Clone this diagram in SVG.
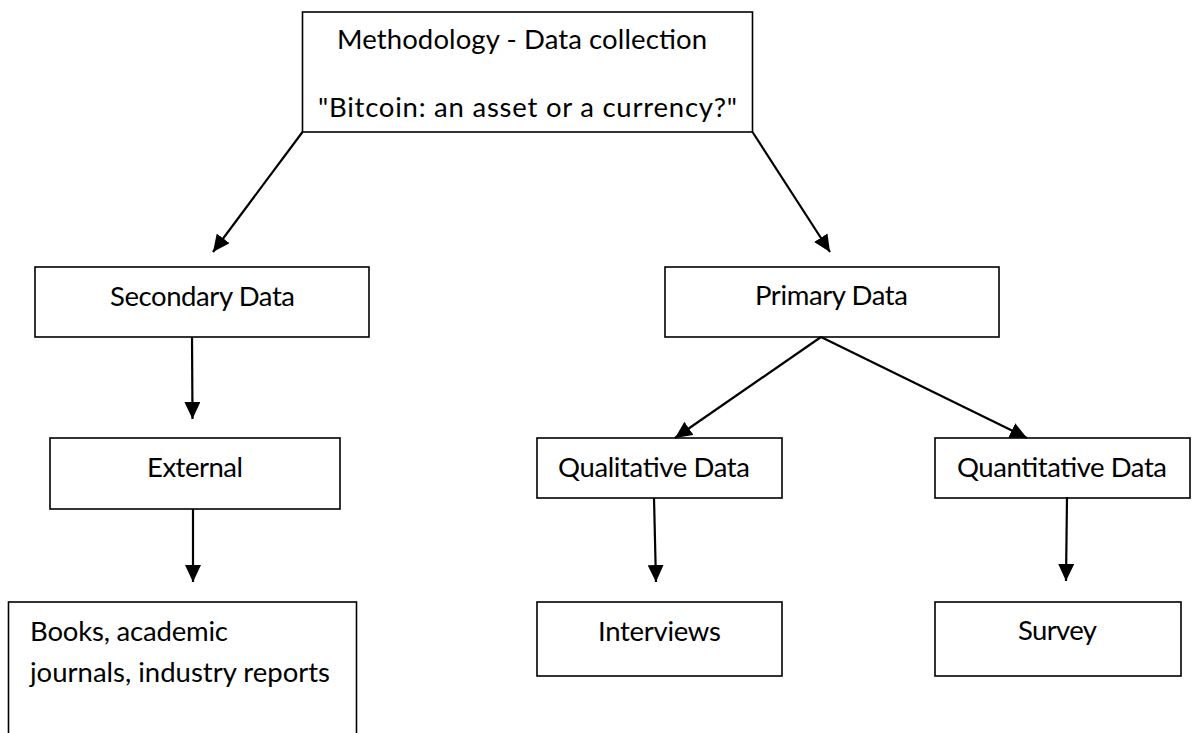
<svg xmlns="http://www.w3.org/2000/svg" width="1197" height="733" viewBox="0 0 1197 733">
<style>
.box{fill:#fff;stroke:#000;stroke-width:1.6}
.lbl{font-family:Lato,"Liberation Sans",sans-serif;font-size:27.5px;fill:#000}
.mid{text-anchor:middle}
.con{stroke:#000;stroke-width:2.2;fill:none;marker-end:url(#ah)}
</style>
<defs>
<marker id="ah" markerUnits="userSpaceOnUse" markerWidth="17" markerHeight="16" refX="17" refY="8" orient="auto">
<path d="M0,0 L17,8 L0,16 Z" fill="#000"/>
</marker>
</defs>
<rect width="1197" height="733" fill="#fff"/>
<g id="n-top">
<rect class="box" x="302.5" y="12" width="450" height="120"/>
<text class="lbl mid" x="522" y="49" textLength="370">Methodology - Data collection</text>
<text class="lbl mid" x="527.5" y="117" textLength="419">"Bitcoin: an asset or a currency?"</text>
</g>
<g id="n-secondary">
<rect class="box" x="35" y="267" width="334" height="70"/>
<text class="lbl mid" x="202.5" y="306" textLength="185">Secondary Data</text>
</g>
<g id="n-primary">
<rect class="box" x="665" y="267" width="334" height="70"/>
<text class="lbl mid" x="831.5" y="305" textLength="153">Primary Data</text>
</g>
<g id="n-external">
<rect class="box" x="50" y="438" width="290" height="71"/>
<text class="lbl mid" x="195" y="477" textLength="96">External</text>
</g>
<g id="n-qualitative">
<rect class="box" x="537" y="438" width="245" height="60"/>
<text class="lbl mid" x="654" y="477" textLength="192">Qualitative Data</text>
</g>
<g id="n-quantitative">
<rect class="box" x="935" y="438" width="255" height="60"/>
<text class="lbl mid" x="1062" y="477" textLength="210">Quantitative Data</text>
</g>
<g id="n-books">
<rect class="box" x="8.5" y="602" width="348" height="140"/>
<text class="lbl" x="30" y="641" textLength="198">Books, academic</text>
<text class="lbl" x="30" y="682" textLength="300">journals, industry reports</text>
</g>
<g id="n-interviews">
<rect class="box" x="537" y="602" width="245" height="74"/>
<text class="lbl mid" x="659.5" y="641" textLength="123">Interviews</text>
</g>
<g id="n-survey">
<rect class="box" x="935" y="602" width="246" height="74"/>
<text class="lbl mid" x="1057.5" y="640" textLength="79">Survey</text>
</g>
<g id="connectors">
<line class="con" x1="302.5" y1="132" x2="213" y2="252"/>
<line class="con" x1="752.5" y1="132" x2="830" y2="252"/>
<line class="con" x1="192" y1="337" x2="192.5" y2="419"/>
<line class="con" x1="821" y1="337" x2="675" y2="438"/>
<line class="con" x1="821" y1="337" x2="1027" y2="438"/>
<line class="con" x1="193" y1="509" x2="193" y2="582"/>
<line class="con" x1="654" y1="498" x2="656" y2="582"/>
<line class="con" x1="1067" y1="497" x2="1066" y2="581"/>
</g>
</svg>
